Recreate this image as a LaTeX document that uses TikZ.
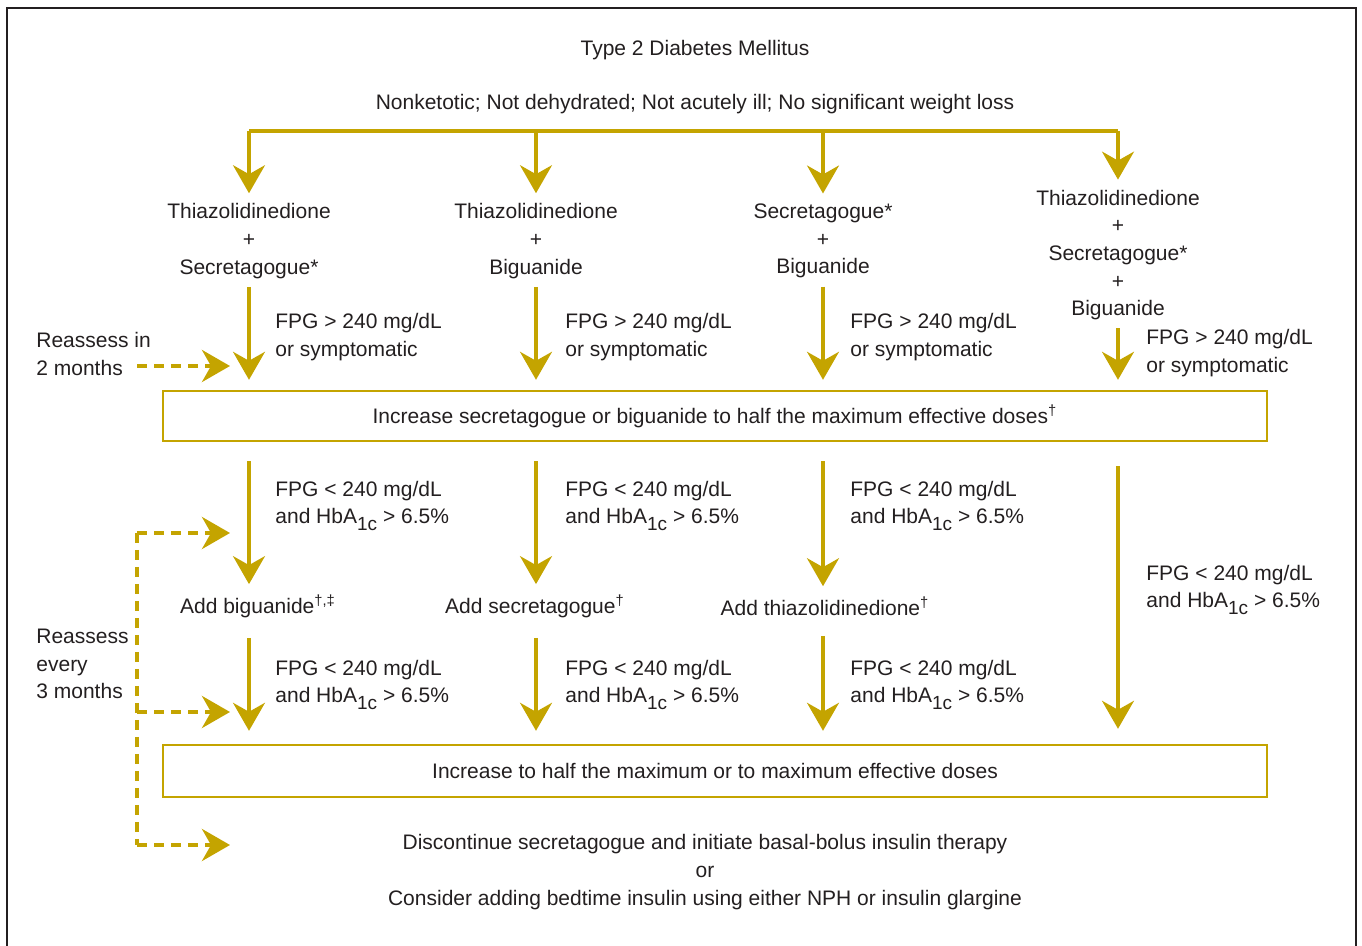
\documentclass[tikz,border=0pt]{standalone}
\usepackage{fontspec}
\setmainfont{Liberation Sans}
\usetikzlibrary{arrows.meta,positioning}
\definecolor{gold}{RGB}{196,164,0}
\definecolor{ink}{RGB}{35,31,32}
\newcommand{\hba}{HbA\raisebox{-0.65ex}{\fontsize{9.5}{11}\selectfont 1c}}

\begin{document}
\begin{tikzpicture}[x=0.5pt,y=-0.5pt,
   every node/.style={text=ink,inner sep=0pt,font=\fontsize{10.5}{13.8}\selectfont},
   >={Stealth[length=14pt,width=16pt,inset=4.5pt]},
   flow/.style={->,draw=gold,line width=1.6pt,shorten <=4pt,shorten >=5pt},
   recheck/.style={->,draw=gold,line width=2pt,dash pattern=on 5pt off 3.5pt},
   dosebox/.style={draw=gold,line width=1.2pt,minimum width=552pt,minimum height=25pt},
   drug/.style={align=center},
   cond/.style={align=left,anchor=west}]
   \useasboundingbox (0,0) rectangle (1362,946);
   \draw[ink,line width=1pt] (7,946) -- (7,8) -- (1356,8) -- (1356,946);

   \node        (title) at (695,50)   {Type 2 Diabetes Mellitus};
   \node        (crit)  at (695,104)  {Nonketotic; Not dehydrated; Not acutely ill; No significant weight loss};
   \coordinate  (bar)   at (0,131);

   \node[drug]  (c1) at (249,241)  {Thiazolidinedione\\+\\Secretagogue*};
   \node[drug]  (c2) at (536,241)  {Thiazolidinedione\\+\\Biguanide};
   \node[drug]  (c3) at (823,241)  {Secretagogue*\\+\\Biguanide};
   \node[drug]  (c4) at (1118,255) {Thiazolidinedione\\+\\Secretagogue*\\+\\Biguanide};

   \node[cond]  (f1) at (275,337)  {FPG > 240 mg/dL\\or symptomatic};
   \node[cond]  (f2) at (565,337)  {FPG > 240 mg/dL\\or symptomatic};
   \node[cond]  (f3) at (850,337)  {FPG > 240 mg/dL\\or symptomatic};
   \node[cond]  (f4) at (1146,353) {FPG > 240 mg/dL\\or symptomatic};

   \node[dosebox] (box1) at (715,416) {Increase secretagogue or biguanide to half the maximum effective doses\textsuperscript{†}};

   \node[cond]  (g1) at (275,506)  {FPG < 240 mg/dL\\and \hba{} > 6.5\%};
   \node[cond]  (g2) at (565,506)  {FPG < 240 mg/dL\\and \hba{} > 6.5\%};
   \node[cond]  (g3) at (850,506)  {FPG < 240 mg/dL\\and \hba{} > 6.5\%};
   \node[cond]  (g4) at (1146,590) {FPG < 240 mg/dL\\and \hba{} > 6.5\%};

   \node        (a1) at (258,606)  {Add biguanide\textsuperscript{†,‡}};
   \node        (a2) at (535,606)  {Add secretagogue\textsuperscript{†}};
   \node        (a3) at (825,606)  {Add thiazolidinedione\textsuperscript{†}};

   \node[cond]  (h1) at (275,685)  {FPG < 240 mg/dL\\and \hba{} > 6.5\%};
   \node[cond]  (h2) at (565,685)  {FPG < 240 mg/dL\\and \hba{} > 6.5\%};
   \node[cond]  (h3) at (850,685)  {FPG < 240 mg/dL\\and \hba{} > 6.5\%};

   \node[dosebox,minimum height=26pt] (box2) at (715,771) {Increase to half the maximum or to maximum effective doses};

   \node[drug]  (fin) at (705,872) {Discontinue secretagogue and initiate basal-bolus insulin therapy\\or\\Consider adding bedtime insulin using either NPH or insulin glargine};

   \node[cond]  (r1) at (36,354)   {Reassess in\\2 months};
   \node[cond]  (r2) at (36,664)   {Reassess\\every\\3 months};

   \coordinate  (d0) at (137,366);
   \coordinate  (d1) at (137,533);
   \coordinate  (d2) at (137,712);
   \coordinate  (d3) at (137,845);

   \draw[gold,line width=1.6pt] (c1 |- bar) -- (c4 |- bar);
   \foreach \c in {c1,c2,c3,c4}
      \draw[flow,shorten <=0pt] (\c |- bar) -- (\c.north);
   \foreach \c in {c1,c2,c3,c4}
      \draw[flow] (\c.south) -- (\c.south |- box1.north);
   \foreach \c/\a in {c1/a1,c2/a2,c3/a3}
      \draw[flow,shorten <=9.5pt] (\c |- box1.south) -- (\c |- \a.north);
   \foreach \c/\a in {c1/a1,c2/a2,c3/a3}
      \draw[flow,shorten <=10pt,shorten >=6.5pt] (\c |- \a.south) -- (\c |- box2.north);
   \draw[flow,shorten <=12pt,shorten >=7.5pt] (c4 |- box1.south) -- (c4 |- box2.north);

   \draw[recheck,-] (d1) -- (d3);
   \foreach \d in {d0,d1,d2,d3}
      \draw[recheck,shorten >=9.5pt] (\d) -- (c1 |- \d);
\end{tikzpicture}
\end{document}
